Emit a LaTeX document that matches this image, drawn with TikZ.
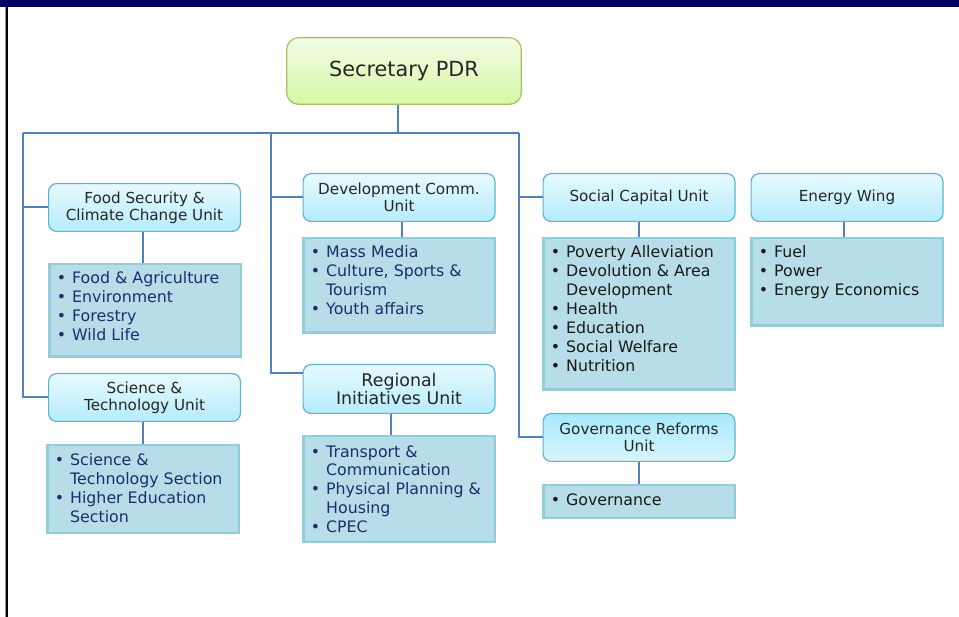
\documentclass[tikz,border=0pt]{standalone}
\usepackage{fontspec}
\setmainfont{DejaVu Sans}
\usetikzlibrary{calc}
\definecolor{navybar}{HTML}{000066}
\definecolor{connblue}{HTML}{4F81BD}
\definecolor{unitborder}{HTML}{5AB4CF}
\definecolor{unittop}{HTML}{E6FAFF}
\definecolor{unitbot}{HTML}{B6ECFB}
\definecolor{govtop}{HTML}{A8E8FA}
\definecolor{govbot}{HTML}{D8F6FD}
\definecolor{listfill}{HTML}{B7DDE8}
\definecolor{listborder}{HTML}{92CDDC}
\definecolor{secborder}{HTML}{A5C46A}
\definecolor{sectop}{HTML}{F2FDE6}
\definecolor{secbot}{HTML}{D6F7A6}
\definecolor{darktext}{HTML}{262626}
\definecolor{navytext}{HTML}{1C2E6B}
\definecolor{blacktext}{HTML}{1A1A1A}
\newcommand{\ufont}{\fontsize{15.2}{16.8}\selectfont}
\newcommand{\lfont}{\fontsize{15.8}{19}\selectfont}
\newcommand{\bul}{\makebox[15.4pt][l]{•}}
\newcommand{\cnt}{\hspace*{15.4pt}}
\tikzset{
  unitbox/.style={draw=unitborder, line width=1.2pt, rounded corners=8pt,
    top color=unittop, bottom color=unitbot, minimum width=191.8pt,
    minimum height=47.8pt, inner sep=0pt, align=center, font=\ufont, text=darktext},
  listbox/.style={draw=listborder, line width=2.5pt, fill=listfill,
    minimum width=191.5pt, inner sep=0pt},
  listtext/.style={anchor=base west, inner sep=0pt, font=\lfont},
  link/.style={draw=connblue, line width=2pt}
}
\begin{document}
\begin{tikzpicture}[x=1pt,y=-1pt]
\useasboundingbox (0,0) rectangle (959,617);
\fill[white] (0,0) rectangle (959,617);
\fill[navybar] (0,0) rectangle (959,7);
\draw[black!40, line width=1pt] (5,7) -- (5,617);
\draw[black, line width=2pt] (7,7) -- (7,617);

% top node
\node[draw=secborder, line width=1.3pt, rounded corners=12pt, top color=sectop,
  bottom color=secbot, minimum width=234.7pt, minimum height=66.7pt,
  font=\fontsize{20.8}{24}\selectfont, text=darktext] (sec) at (404,71) {Secretary PDR};

% unit boxes
\node[unitbox] (fs) at (144.5,207.5) {Food Security \&\\Climate Change Unit};
\node[unitbox] (dc) at (399,197.5) {Development Comm.\\Unit};
\node[unitbox] (sc) at (639,197.5) {Social Capital Unit};
\node[unitbox] (ew) at (847,197.5) {Energy Wing};
\node[unitbox] (st) at (144.5,397.5) {Science \&\\Technology Unit};
\node[unitbox, minimum height=48.8pt, font=\fontsize{17.4}{18}\selectfont] (ri) at (399,389) {Regional\\Initiatives Unit};
\node[unitbox, top color=govtop, bottom color=govbot] (gr) at (639,437.5) {Governance Reforms\\Unit};

% list boxes
\node[listbox, minimum height=92.5pt] (fl) at (145,310.5) {};
\node[listbox, minimum height=94.5pt] (dl) at (399,285.5) {};
\node[listbox, minimum height=151.5pt] (sl) at (639,314) {};
\node[listbox, minimum height=87.5pt] (el) at (847,282) {};
\node[listbox, minimum height=87.5pt] (stl) at (143,489) {};
\node[listbox, minimum height=105.5pt] (rl) at (399,489) {};
\node[listbox, minimum height=32.5pt] (gl) at (639,501.5) {};

% list texts
\node[listtext, text=navytext] (flt) at ($(fl.north west)+(8.6,21)$)
  {\begin{tabular}[t]{@{}l@{}}\bul Food \& Agriculture\\ \bul Environment\\ \bul Forestry\\ \bul Wild Life\end{tabular}};
\node[listtext, text=navytext] (dlt) at ($(dl.north west)+(8.6,21)$)
  {\begin{tabular}[t]{@{}l@{}}\bul Mass Media\\ \bul Culture, Sports \&\\ \cnt Tourism\\ \bul Youth affairs\end{tabular}};
\node[listtext, text=blacktext] (slt) at ($(sl.north west)+(8.6,21)$)
  {\begin{tabular}[t]{@{}l@{}}\bul Poverty Alleviation\\ \bul Devolution \& Area\\ \cnt Development\\ \bul Health\\ \bul Education\\ \bul Social Welfare\\ \bul Nutrition\end{tabular}};
\node[listtext, text=blacktext] (elt) at ($(el.north west)+(8.6,21)$)
  {\begin{tabular}[t]{@{}l@{}}\bul Fuel\\ \bul Power\\ \bul Energy Economics\end{tabular}};
\node[listtext, text=navytext] (stlt) at ($(stl.north west)+(8.6,22)$)
  {\begin{tabular}[t]{@{}l@{}}\bul Science \&\\ \cnt Technology Section\\ \bul Higher Education\\ \cnt Section\end{tabular}};
\node[listtext, text=navytext] (rlt) at ($(rl.north west)+(8.6,22)$)
  {\begin{tabular}[t]{@{}l@{}}\bul Transport \&\\ \cnt Communication\\ \bul Physical Planning \&\\ \cnt Housing\\ \bul CPEC\end{tabular}};
\node[listtext, text=blacktext] (glt) at ($(gl.north west)+(8.6,21.5)$)
  {\begin{tabular}[t]{@{}l@{}}\bul Governance\end{tabular}};

% bus coordinates
\coordinate (jL) at (23,133);
\coordinate (jM) at (271,133);
\coordinate (jR) at (519,133);
\coordinate (jS) at ($(sec.south)+(-6,0)$);

% connectors
\draw[link] (jS) -- (jS |- jR);
\draw[link] (jL) -- (jR);
\draw[link] (jL) -- (jL |- st.west) -- (st.west);
\draw[link] (jL |- fs.west) -- (fs.west);
\draw[link] (jM) -- (jM |- 0,373) -- ($(ri.north west)+(0,9)$);
\draw[link] (jM |- dc.west) -- (dc.west);
\draw[link] (jR) -- (jR |- gr.west) -- (gr.west);
\draw[link] (jR |- sc.west) -- (sc.west);

\draw[link] ($(fs.south)+(-1.5,0)$) -- ($(fl.north)+(-2,0)$);
\draw[link] ($(dc.south)+(3,0)$) -- ($(dl.north)+(3,0)$);
\draw[link] (sc.south) -- (sl.north);
\draw[link] ($(ew.south)+(-3,0)$) -- ($(el.north)+(-3,0)$);
\draw[link] ($(st.south)+(-1.5,0)$) -- ($(stl.north)+(0,0)$);
\draw[link] ($(ri.south)+(-8,0)$) -- ($(rl.north)+(-8,0)$);
\draw[link] (gr.south) -- (gl.north);
\end{tikzpicture}
\end{document}
